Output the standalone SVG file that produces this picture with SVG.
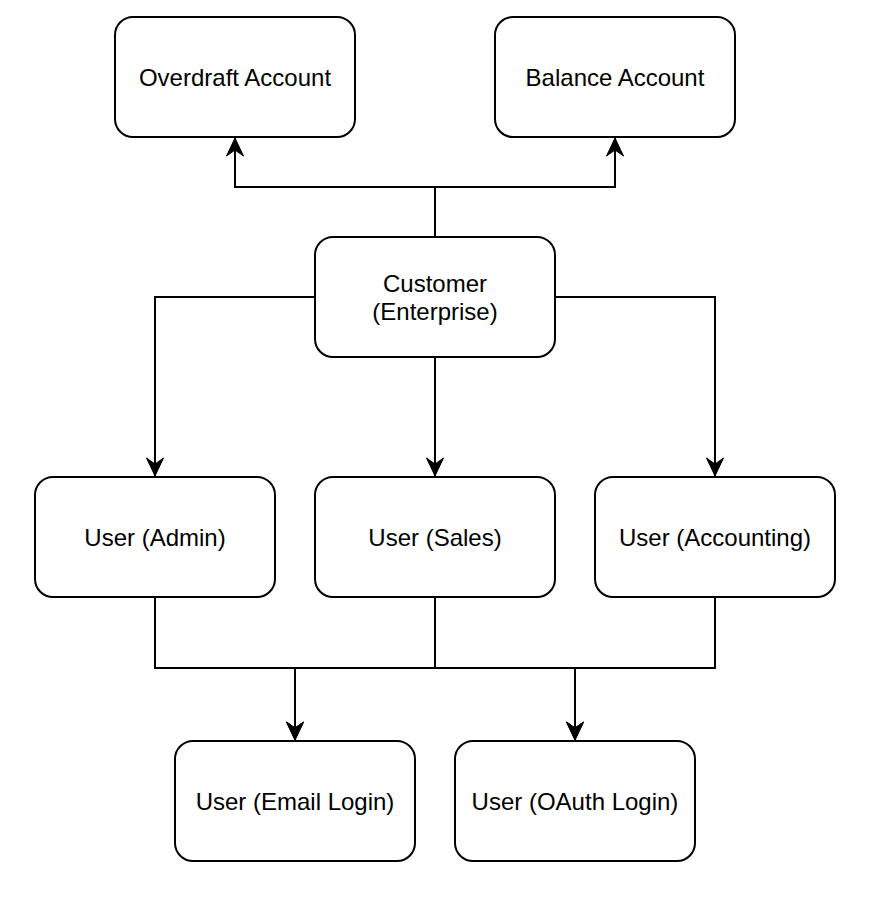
<svg xmlns="http://www.w3.org/2000/svg" width="892" height="898" viewBox="0 0 892 898">
  <style>
    .box { fill: #ffffff; stroke: #000000; stroke-width: 2; }
    .lbl { font-family: "Liberation Sans", Arial, Helvetica, sans-serif; font-size: 24px; fill: #000000; text-anchor: middle; }
    .edge { fill: none; stroke: #000000; stroke-width: 2; }
    .arr { marker-end: url(#arrow); }
  </style>
  <defs>
    <marker id="arrow" markerUnits="userSpaceOnUse" markerWidth="20" markerHeight="20" viewBox="-19 -10 20 20" refX="0" refY="0" orient="auto">
      <path d="M0,0 L-18,-8.5 L-12,0 L-18,8.5 Z" fill="#000000" stroke="#000000" stroke-width="1"/>
    </marker>
  </defs>
  <rect width="892" height="898" fill="#ffffff"/>

  <g id="connectors">
    <path class="edge arr" d="M435,237 L435,187 L235,187 L235,138"/>
    <path class="edge arr" d="M435,237 L435,187 L615,187 L615,138"/>
    <path class="edge arr" d="M315,297 L155,297 L155,476"/>
    <path class="edge arr" d="M435,357 L435,476"/>
    <path class="edge arr" d="M555,297 L715,297 L715,476"/>
    <path class="edge arr" d="M155,597 L155,668 L295,668 L295,740"/>
    <path class="edge arr" d="M435,597 L435,668 L295,668 L295,740"/>
    <path class="edge arr" d="M715,597 L715,668 L575,668 L575,740"/>
    <path class="edge arr" d="M435,597 L435,668 L575,668 L575,740"/>
  </g>

  <g id="overdraft-account">
    <rect class="box" x="115" y="17" width="240" height="120" rx="18" ry="18"/>
    <text class="lbl" x="235" y="85.5">Overdraft Account</text>
  </g>
  <g id="balance-account">
    <rect class="box" x="495" y="17" width="240" height="120" rx="18" ry="18"/>
    <text class="lbl" x="615" y="85.5">Balance Account</text>
  </g>
  <g id="customer">
    <rect class="box" x="315" y="237" width="240" height="120" rx="18" ry="18"/>
    <text class="lbl" x="435" y="291.5">Customer</text>
    <text class="lbl" x="435" y="319.5">(Enterprise)</text>
  </g>
  <g id="user-admin">
    <rect class="box" x="35" y="477" width="240" height="120" rx="18" ry="18"/>
    <text class="lbl" x="155" y="545.5">User (Admin)</text>
  </g>
  <g id="user-sales">
    <rect class="box" x="315" y="477" width="240" height="120" rx="18" ry="18"/>
    <text class="lbl" x="435" y="545.5">User (Sales)</text>
  </g>
  <g id="user-accounting">
    <rect class="box" x="595" y="477" width="240" height="120" rx="18" ry="18"/>
    <text class="lbl" x="715" y="545.5">User (Accounting)</text>
  </g>
  <g id="user-email-login">
    <rect class="box" x="175" y="741" width="240" height="120" rx="18" ry="18"/>
    <text class="lbl" x="295" y="809.5">User (Email Login)</text>
  </g>
  <g id="user-oauth-login">
    <rect class="box" x="455" y="741" width="240" height="120" rx="18" ry="18"/>
    <text class="lbl" x="575" y="809.5">User (OAuth Login)</text>
  </g>
</svg>
